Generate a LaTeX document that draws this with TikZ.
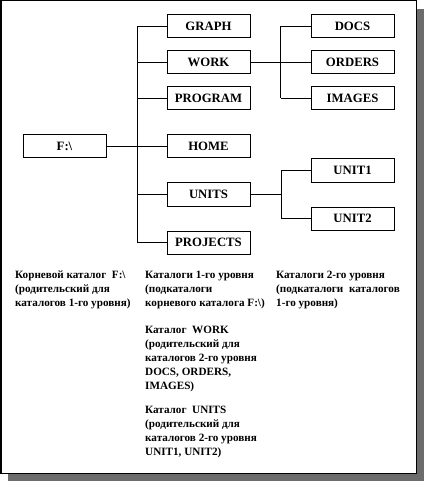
\documentclass[tikz,border=0pt]{standalone}
\usepackage{fontspec}
\setmainfont{Liberation Serif}
\begin{document}
\begin{tikzpicture}[x=1bp,y=-1bp,
  box/.style={draw,line width=1bp,minimum width=83bp,minimum height=23bp,inner sep=0pt,font=\fontsize{12.8}{13}\selectfont\bfseries},
  conn/.style={line width=0.9bp},
  note/.style={anchor=north west,align=left,inner sep=0pt,font=\fontsize{11.2}{14}\selectfont\bfseries}]
\useasboundingbox (0,0) rectangle (424,481);
% shadow and frame
\fill[gray!85!black] (8,9) rectangle (424,481);
\filldraw[fill=white,draw=black,line width=1.2bp] (1,0.8) rectangle (416.5,473.5);
% boxes
\node[box] (fa) at (64.5,146.5) {F:\textbackslash};
\node[box] (graph) at (208.5,26.5) {GRAPH};
\node[box] (work) at (208.5,62.5) {WORK};
\node[box] (program) at (208.5,98.5) {PROGRAM};
\node[box] (home) at (208.5,146.5) {HOME};
\node[box] (units) at (208.5,194.5) {UNITS};
\node[box] (projects) at (208.5,242.5) {PROJECTS};
\node[box] (docs) at (352.5,26.5) {DOCS};
\node[box] (orders) at (352.5,62.5) {ORDERS};
\node[box] (images) at (352.5,98.5) {IMAGES};
\node[box] (unit1) at (352.5,170.5) {UNIT1};
\node[box] (unit2) at (352.5,218.5) {UNIT2};
% trunk
\coordinate (t1) at (137,26.5);
\coordinate (t2) at (137,242.5);
\draw[conn] (t1) -- (t2);
\draw[conn] (fa.east) -- (home.west);
\foreach \n in {graph,work,program,units,projects}
  \draw[conn] (\n.west) -- (137,0 |- \n.west);
% WORK branch
\coordinate (w1) at (280.5,26.5);
\coordinate (w2) at (280.5,98.5);
\draw[conn] (w1) -- (w2);
\draw[conn] (work.east) -- (orders.west);
\draw[conn] (docs.west) -- (w1);
\draw[conn] (images.west) -- (w2);
% UNITS branch
\coordinate (u1) at (281,170.5);
\coordinate (u2) at (281,218.5);
\draw[conn] (u1) -- (u2);
\draw[conn] (units.east) -- (281,194.5);
\draw[conn] (unit1.west) -- (u1);
\draw[conn] (unit2.west) -- (u2);
% notes
\node[note] (n1) at (15,271) {Корневой каталог \ F:\textbackslash\\(родительский для\\каталогов 1-го уровня)};
\node[note] (n2) at (145,271) {Каталоги 1-го уровня\\(подкаталоги\\корневого каталога F:\textbackslash)};
\node[note] (n3) at (276,271) {Каталоги 2-го уровня\\(подкаталоги \ каталогов\\1-го уровня)};
\node[note] (n4) at (145,326) {Каталог \ WORK\\(родительский для\\каталогов 2-го уровня\\DOCS, ORDERS,\\IMAGES)};
\node[note] (n5) at (145,406) {Каталог \ UNITS\\(родительский для\\каталогов 2-го уровня\\UNIT1, UNIT2)};
\end{tikzpicture}
\end{document}
